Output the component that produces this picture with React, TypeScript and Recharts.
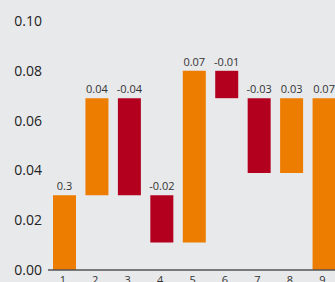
import { BarChart, Bar, XAxis, YAxis, Cell, LabelList } from "recharts";

const categories = ["1.", "2.", "3.", "4.", "5.", "6.", "7.", "8.", "9."];
// change per step (last one is the total, drawn from zero)
const deltas = [0.03, 0.039, -0.039, -0.019, 0.069, -0.011, -0.03, 0.03, 0.069];
const valueLabels = ["0.3", "0.04", "-0.04", "-0.02", "0.07", "-0.01", "-0.03", "0.03", "0.07"];
const yTicks = [0, 0.02, 0.04, 0.06, 0.08, 0.1];

const ORANGE = "#ed7d00";
const RED = "#b4001f";

const data = (() => {
  let level = 0;
  return categories.map((name, i) => {
    const d = deltas[i];
    const isTotal = i === categories.length - 1;
    const start = isTotal ? 0 : level;
    const end = start + d;
    if (!isTotal) level = end;
    return {
      name,
      base: Math.min(start, end),
      value: Math.abs(d),
      label: valueLabels[i],
      color: d < 0 ? RED : ORANGE,
    };
  });
})();

export default function App() {
  return (
    <div
      style={{
        position: "fixed",
        left: 0,
        top: 0,
        width: 335,
        height: 282,
        overflow: "hidden",
        background: "#e8e9eb",
        fontFamily: "'Open Sans', sans-serif",
      }}
    >
      <BarChart
        width={340}
        height={300}
        data={data}
        margin={{ top: 21, right: 0, bottom: 0, left: 0 }}
      >
        <XAxis
          dataKey="name"
          axisLine={{ stroke: "#555", strokeWidth: 1.5 }}
          tickLine={false}
          tickSize={4}
          tick={{ fontSize: 11, fill: "#333" }}
          interval={0}
          height={30}
        />
        <YAxis
          type="number"
          domain={[0, 0.1]}
          ticks={yTicks}
          tickFormatter={(v: number) => v.toFixed(2)}
          axisLine={false}
          tickLine={false}
          tickSize={0}
          tickMargin={6}
          width={48}
          tick={{ fontSize: 14, fill: "#222" }}
        />
        <Bar dataKey="base" stackId="w" fill="transparent" barSize={23} isAnimationActive={false} />
        <Bar dataKey="value" stackId="w" barSize={23} isAnimationActive={false}>
          {data.map((d) => (
            <Cell key={d.name} fill={d.color} />
          ))}
          <LabelList
            dataKey="label"
            position="top"
            offset={5}
            style={{ fontSize: 11, fill: "#333" }}
          />
        </Bar>
      </BarChart>
    </div>
  );
}
